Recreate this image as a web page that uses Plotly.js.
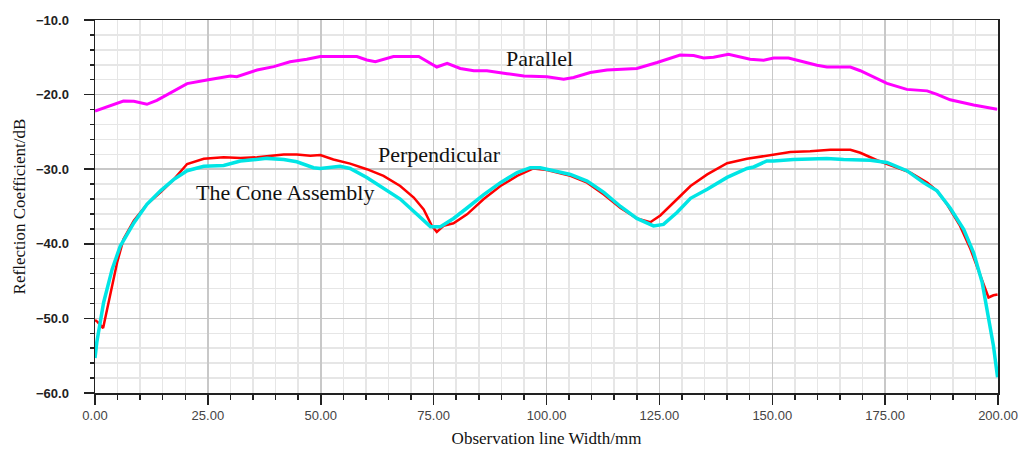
<!DOCTYPE html>
<html>
<head>
<meta charset="utf-8">
<script src="https://cdn.plot.ly/plotly-3.0.1.min.js"></script>
<style>html,body{margin:0;padding:0;background:#fff;}#chart{width:1029px;height:451px;}</style>
</head>
<body>
<div id="chart"></div>
<script>
const parallelX = [0, 6.3, 8.6, 11.5, 13.7, 16.7, 20.4, 24.8, 30, 31.4, 35.9, 39.6, 43.2, 46.9, 49.9, 58.0, 60.2, 62.1, 66.1, 71.7, 75.7, 78, 80.9, 83.9, 86.8, 91.3, 95, 100.1, 103.8, 106, 109.7, 113.4, 120, 124.5, 129.6, 132.6, 134.8, 137, 140.3, 145.1, 148.1, 150.3, 153.6, 156.2, 159.9, 162.1, 167.3, 169.5, 175.4, 179.8, 184.3, 186.5, 189.4, 194.6, 199.8];
const parallelY = [-22.2, -20.86, -20.9, -21.3, -20.76, -19.73, -18.53, -18.04, -17.5, -17.6, -16.7, -16.25, -15.6, -15.27, -14.9, -14.9, -15.36, -15.6, -14.9, -14.9, -16.3, -15.8, -16.5, -16.8, -16.8, -17.2, -17.5, -17.6, -17.95, -17.7, -17.05, -16.7, -16.5, -15.7, -14.7, -14.75, -15.1, -15.0, -14.6, -15.27, -15.4, -15.1, -15.1, -15.5, -16.07, -16.3, -16.3, -16.8, -18.5, -19.3, -19.5, -19.96, -20.7, -21.4, -21.97];

const perpX = [0, 0.6, 1.8, 2.7, 3.8, 4.9, 6.3, 8.6, 11.5, 14.5, 17.4, 20.4, 24.1, 28.5, 32.2, 35.9, 41.8, 44.7, 47.7, 49.9, 52.8, 56.5, 60.2, 63.9, 67.6, 70.6, 72.8, 74.6, 75.7, 77.2, 79.4, 82.4, 86.1, 89.8, 93.5, 96.4, 97.1, 100.1, 105.3, 109, 112.7, 116.4, 120, 123, 125.2, 128.1, 131.9, 135.6, 140, 144.4, 148.8, 150.3, 154, 158.4, 162.9, 167.3, 169.5, 173.2, 176.9, 180.6, 184.3, 186.5, 188.7, 191.6, 193.9, 196.1, 197.9, 199, 199.9];
const perpY = [-50.2, -50.5, -51.3, -48.8, -45.7, -42.5, -39.4, -36.9, -34.7, -33.1, -31.4, -29.3, -28.6, -28.4, -28.5, -28.4, -28.04, -28.04, -28.2, -28.1, -28.7, -29.25, -30.0, -30.9, -32.25, -33.8, -35.4, -37.6, -38.4, -37.6, -37.25, -36.05, -34.0, -32.25, -30.9, -30.1, -29.9, -30.1, -30.9, -31.8, -33.4, -35.2, -36.6, -37.1, -36.2, -34.5, -32.25, -30.7, -29.2, -28.6, -28.2, -28.1, -27.7, -27.6, -27.4, -27.4, -27.8, -28.8, -29.6, -30.45, -31.8, -32.9, -34.7, -37.6, -40.7, -44.3, -47.2, -46.9, -46.8];

const coneX = [0, 0.4, 1.9, 3.8, 5.6, 8.6, 11.5, 14.5, 17.4, 20.4, 24.1, 28.5, 32.2, 38.1, 41.8, 44.7, 48.4, 49.9, 54.3, 56.5, 60.2, 63.9, 67.6, 71.3, 74.3, 76.5, 79.4, 82.4, 86.1, 89.8, 93.5, 96.4, 98.6, 105.3, 109, 112.7, 116.4, 120, 123.7, 125.9, 128.9, 131.9, 135.6, 140, 144.4, 145.9, 148.8, 150.3, 154.7, 162.1, 165.8, 171.7, 175.4, 179.8, 183.5, 186.5, 189.4, 192.4, 194.6, 196.5, 197.9, 199, 199.9];
const coneY = [-55.3, -53.2, -47.9, -43.4, -40.3, -37.2, -34.7, -32.9, -31.4, -30.2, -29.6, -29.5, -28.9, -28.55, -28.7, -29.0, -29.8, -29.9, -29.6, -29.9, -31.1, -32.5, -34.0, -36.05, -37.7, -37.7, -36.6, -35.2, -33.4, -31.8, -30.45, -29.8, -29.8, -30.7, -31.6, -33.1, -35.0, -36.6, -37.6, -37.4, -35.8, -33.9, -32.7, -31.1, -29.9, -29.7, -28.9, -28.9, -28.7, -28.55, -28.7, -28.8, -29.1, -30.2, -31.8, -32.9, -35.2, -38.05, -41.2, -45.2, -49.7, -53.7, -57.9];

const labelText = ["Parallel", "Perpendicular", "The Cone Assembly"];
const labelX = [98.5, 76.4, 42];
const labelY = [-15.1, -28.0, -33.1];

const traces = [
  {x: parallelX, y: parallelY, mode: 'lines', name: 'Parallel', line: {color: '#ff00ff', width: 3}},
  {x: perpX, y: perpY, mode: 'lines', name: 'Perpendicular', line: {color: '#ff0000', width: 2.5}},
  {x: coneX, y: coneY, mode: 'lines', name: 'The Cone Assembly', line: {color: '#00e5e5', width: 3.5}}
];

const annotations = labelText.map((t, i) => ({
  x: labelX[i], y: labelY[i], xref: 'x', yref: 'y', text: t, showarrow: false,
  font: {family: 'Liberation Serif, Times New Roman, serif', size: 22, color: '#111'}
}));

const layout = {
  width: 1029, height: 451,
  margin: {l: 95, r: 31, t: 20, b: 58},
  paper_bgcolor: '#fff', plot_bgcolor: '#fff',
  showlegend: false,
  xaxis: {
    range: [0, 200], dtick: 25, tick0: 0, tickformat: '.2f',
    ticks: 'outside', ticklen: 10, tickcolor: '#222', tickwidth: 1.5,
    showgrid: true, gridcolor: '#c8c8c8', gridwidth: 1.5,
    showline: true, linecolor: '#222', linewidth: 1.5, mirror: true,
    zeroline: false,
    minor: {dtick: 5, showgrid: true, gridcolor: '#e6e6e6', gridwidth: 1.5, ticks: 'outside', ticklen: 5, tickcolor: '#222'},
    tickfont: {family: 'Liberation Sans, Arial, sans-serif', size: 13, color: '#444'},
    title: {text: 'Observation line Width/mm', standoff: 10,
      font: {family: 'Liberation Serif, Times New Roman, serif', size: 17, color: '#111'}}
  },
  yaxis: {
    range: [-60, -10], dtick: 10, tick0: -60, tickformat: '.1f',
    ticks: 'outside', ticklen: 10, tickcolor: '#222', tickwidth: 1.5,
    showgrid: true, gridcolor: '#c8c8c8', gridwidth: 1.5,
    showline: true, linecolor: '#222', linewidth: 1.5, mirror: true,
    zeroline: false, ticklabelstandoff: 12,
    minor: {dtick: 2, showgrid: true, gridcolor: '#e6e6e6', gridwidth: 1.5, ticks: 'outside', ticklen: 4, tickcolor: '#222'},
    tickfont: {family: 'Liberation Sans, Arial, sans-serif', size: 13, color: '#222', weight: 'bold'},
    title: {text: 'Reflection Coefficient/dB', standoff: 6,
      font: {family: 'Liberation Serif, Times New Roman, serif', size: 17, color: '#111'}}
  },
  annotations: annotations
};

Plotly.newPlot('chart', traces, layout, {displayModeBar: false, staticPlot: true});
</script>
</body>
</html>
